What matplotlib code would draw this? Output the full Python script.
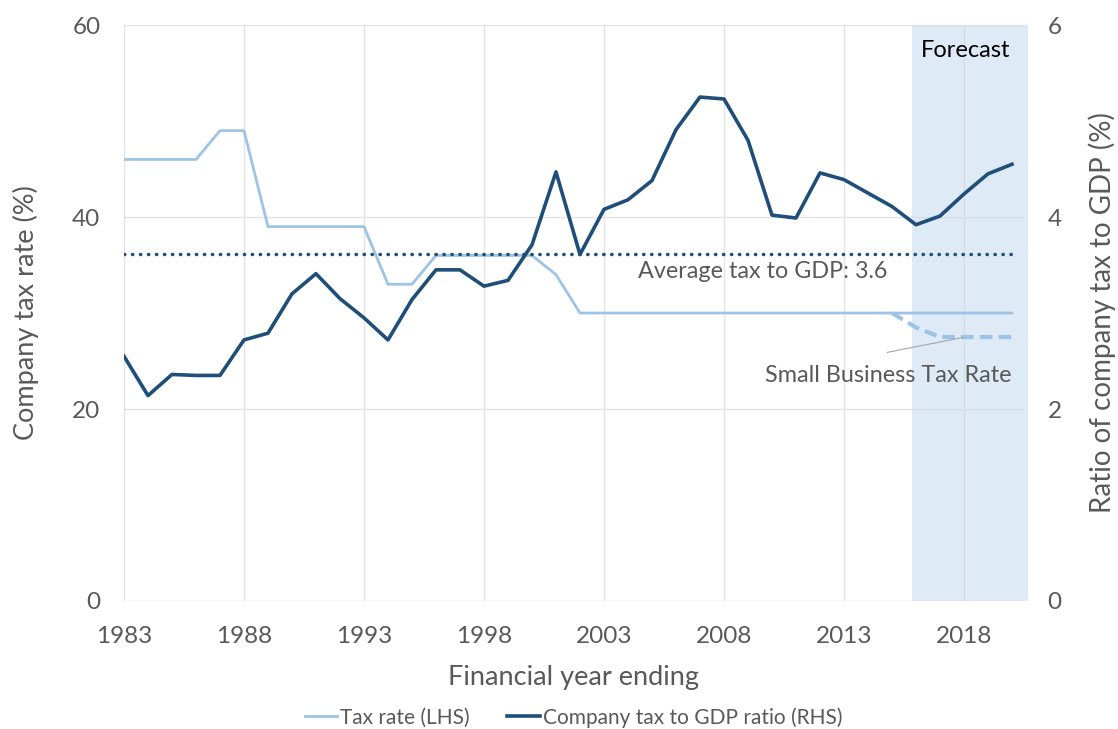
import matplotlib
matplotlib.use("Agg")
import matplotlib.pyplot as plt
import numpy as np

plt.rcParams['font.family'] = ['Lato', 'DejaVu Sans']

years = list(range(1983, 2021))
tax_rate = [46, 46, 46, 46, 49, 49, 39, 39, 39, 39, 39, 33, 33, 36, 36, 36, 36, 36, 34,
            30, 30, 30, 30, 30, 30, 30, 30, 30, 30, 30, 30, 30, 30, 30, 30, 30, 30, 30]
gdp_ratio = [2.55, 2.14, 2.36, 2.35, 2.35, 2.72, 2.79, 3.20, 3.41, 3.15, 2.95, 2.72, 3.14,
             3.45, 3.45, 3.28, 3.34, 3.71, 4.47, 3.61, 4.08, 4.18, 4.38, 4.91, 5.25, 5.23,
             4.80, 4.02, 3.99, 4.46, 4.39, 4.25, 4.11, 3.92, 4.01, 4.24, 4.45, 4.55]
avg_gdp = 3.62
sb_years = [2015, 2016, 2017, 2018, 2019, 2020]
sb_rate = [30, 28.5, 27.5, 27.5, 27.5, 27.5]
xticks = [1983, 1988, 1993, 1998, 2003, 2008, 2013, 2018]

light = '#9DC3E6'
dark = '#1F4E79'
txt = '#595959'
grid = '#D9D9D9'

fig = plt.figure(figsize=(11.18, 7.29), dpi=100)
ax = fig.add_axes([0.1109, 0.1756, 0.805, 0.79])
ax2 = ax.twinx()

ax.set_xlim(1983, 2020.5)
ax.set_ylim(0, 60)
ax2.set_ylim(0, 6)

# forecast shading
ax.axvspan(2015.83, 2020.67, color='#DEEAF6', zorder=0, clip_on=False, lw=0)

ax.set_xticks(xticks)
ax.set_yticks([0, 20, 40, 60])
ax2.set_yticks([0, 2, 4, 6])
ax.grid(True, color=grid, lw=1, alpha=0.7, zorder=1)
ax.set_axisbelow(False)
for a in (ax, ax2):
    for s in a.spines.values():
        s.set_visible(False)
    a.tick_params(length=0, labelsize=17.5, labelcolor=txt)
ax.tick_params(axis='x', pad=18)
ax.tick_params(axis='y', pad=17)
ax2.tick_params(axis='y', pad=17)

ax.plot(years, tax_rate, color=light, lw=2, zorder=3, label='Tax rate (LHS)')
ax.plot(sb_years, sb_rate, color=light, lw=3, ls=(0, (3, 1.5)), zorder=3)
ax2.plot(years, [avg_gdp] * len(years), color=dark, lw=2.5, ls=(0, (0.1, 2.2)),
         dash_capstyle='round', zorder=4)
ax2.plot(years, gdp_ratio, color=dark, lw=2.6, zorder=5, label='Company tax to GDP ratio (RHS)')

ax.set_xlabel('Financial year ending', fontsize=19.5, color=txt, labelpad=13)
ax.set_ylabel('Company tax rate (%)', fontsize=19.5, color=txt, labelpad=24)
ax2.set_ylabel('Ratio of company tax to GDP (%)', fontsize=20, color=txt, labelpad=19)

ax.text(2019.95, 57.4, 'Forecast', ha='right', va='center', fontsize=17, color='black')
ax2.text(2009.6, 3.43, 'Average tax to GDP: {:.1f}'.format(avg_gdp), ha='center', va='center',
         fontsize=16.8, color=txt)
ax.text(2020, 23.5, 'Small Business Tax Rate', ha='right', va='center', fontsize=16.8, color=txt)
ax.plot([2014.8, 2017.95], [25.9, 27.45], color='#A6A6A6', lw=0.8, zorder=3)

h1, l1 = ax.get_legend_handles_labels()
h2, l2 = ax2.get_legend_handles_labels()
leg = fig.legend(h1 + h2, l1 + l2, loc='center', bbox_to_anchor=(0.513, 0.016), ncol=2,
                 frameon=False, fontsize=15, handlelength=1.55, handletextpad=0.15,
                 columnspacing=1.8)
for t in leg.get_texts():
    t.set_color(txt)

fig.savefig('out.png', dpi=100)
